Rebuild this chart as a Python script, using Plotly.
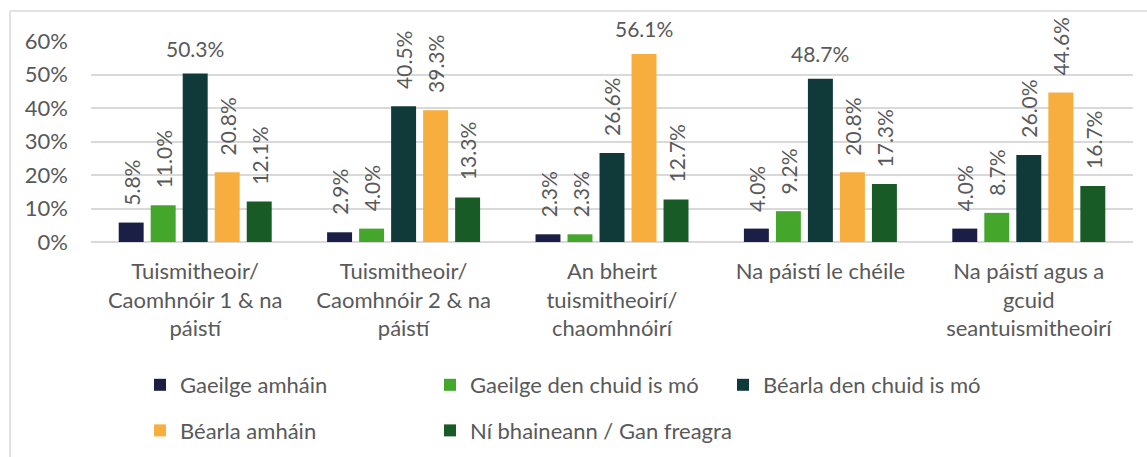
import plotly.graph_objects as go

# Household pairing categories (x axis)
categories = [
    "Tuismitheoir/<br>Caomhnóir 1 & na<br>páistí",
    "Tuismitheoir/<br>Caomhnóir 2 & na<br>páistí",
    "An bheirt<br>tuismitheoirí/<br>chaomhnóirí",
    "Na páistí le chéile",
    "Na páistí agus a<br>gcuid<br>seantuismitheoirí",
]

# Share of each language-use response (%)
gaeilge_amhain = [5.8, 2.9, 2.3, 4.0, 4.0]
gaeilge_den_chuid = [11.0, 4.0, 2.3, 9.2, 8.7]
bearla_den_chuid = [50.3, 40.5, 26.6, 48.7, 26.0]
bearla_amhain = [20.8, 39.3, 56.1, 20.8, 44.6]
ni_bhaineann = [12.1, 13.3, 12.7, 17.3, 16.7]

series_names = [
    "Gaeilge amháin",
    "Gaeilge den chuid is mó",
    "Béarla den chuid is mó",
    "Béarla amháin",
    "Ní bhaineann / Gan freagra",
]
series_values = [gaeilge_amhain, gaeilge_den_chuid, bearla_den_chuid,
                 bearla_amhain, ni_bhaineann]
colors = ["#1B1F45", "#44A72C", "#103A3A", "#F8AE3F", "#195B26"]
legend_ids = ["legend", "legend2", "legend3", "legend", "legend2"]

y_ticks = [0, 10, 20, 30, 40, 50, 60]
y_tick_text = ["0%", "10%", "20%", "30%", "40%", "50%", "60%"]

FONT = "Lato"
TEXT = "#595959"
GRID = "#D9D9D9"

W, H = 1147, 457
L, R, T, B = 91, 14, 41, 215
BARGAP = 0.232
GROUPGAP = 0.22

fig = go.Figure()
for k, (name, vals, col) in enumerate(zip(series_names, series_values, colors)):
    fig.add_trace(go.Bar(
        x=list(range(len(categories))),
        y=vals,
        name=name,
        marker=dict(color=col, line=dict(width=0)),
        legend=legend_ids[k],
        legendgroup=name,
        hoverinfo="skip",
    ))

# value labels above each bar; tall bars get horizontal text
slot = (1 - BARGAP) / len(series_names)
annotations = []
for k, vals in enumerate(series_values):
    for i, v in enumerate(vals):
        horizontal = v > 45
        annotations.append(dict(
            x=i + (k - (len(series_names) - 1) / 2) * slot,
            y=v,
            xref="x", yref="y",
            text=f"{v:.1f}%",
            showarrow=False,
            textangle=0 if horizontal else -90,
            xanchor="center", yanchor="bottom",
            yshift=11 if horizontal else 15,
            font=dict(family=FONT, size=21, color=TEXT),
        ))


def px_x(px):
    return (px - L) / (W - L - R)


def px_y(py):
    return (H - B - py) / (H - T - B)


# light frame along the left and top edges
shapes = [
    dict(type="line", xref="paper", yref="paper",
         x0=px_x(10), x1=px_x(W + 5), y0=px_y(11), y1=px_y(11),
         line=dict(color=GRID, width=1.5)),
    dict(type="line", xref="paper", yref="paper",
         x0=px_x(10), x1=px_x(10), y0=px_y(11), y1=px_y(H + 5),
         line=dict(color=GRID, width=1.5)),
]

legend_common = dict(
    orientation="v",
    font=dict(family=FONT, size=22, color=TEXT),
    bgcolor="rgba(0,0,0,0)",
    tracegroupgap=14,
    itemwidth=30,
    xref="container",
    yref="container",
    yanchor="top",
    xanchor="left",
)
legend_top = 1 - 364 / H

fig.update_layout(
    width=W, height=H,
    margin=dict(l=L, r=R, t=T, b=B, pad=0, autoexpand=False),
    paper_bgcolor="white",
    plot_bgcolor="white",
    barmode="group",
    bargap=BARGAP,
    bargroupgap=GROUPGAP,
    font=dict(family=FONT, size=22, color=TEXT),
    xaxis=dict(
        tickmode="array",
        tickvals=list(range(len(categories))),
        ticktext=categories,
        showgrid=False,
        showline=False,
        ticks="",
        ticklabelstandoff=14,
        tickfont=dict(family=FONT, size=22, color=TEXT),
        range=[-0.5, len(categories) - 0.5],
        zeroline=False,
        automargin=False,
    ),
    yaxis=dict(
        range=[0, 60],
        tickmode="array",
        tickvals=y_ticks,
        ticktext=y_tick_text,
        showgrid=True,
        gridcolor=GRID,
        gridwidth=1.5,
        zeroline=True,
        zerolinecolor=GRID,
        zerolinewidth=1.5,
        showline=False,
        ticks="",
        ticklabelstandoff=22,
        tickfont=dict(family=FONT, size=22, color=TEXT),
        automargin=False,
    ),
    legend=dict(x=140 / W, y=legend_top, **legend_common),
    legend2=dict(x=430 / W, y=legend_top, **legend_common),
    legend3=dict(x=723 / W, y=legend_top, **legend_common),
    annotations=annotations,
    shapes=shapes,
)

fig.write_html("out.html")
